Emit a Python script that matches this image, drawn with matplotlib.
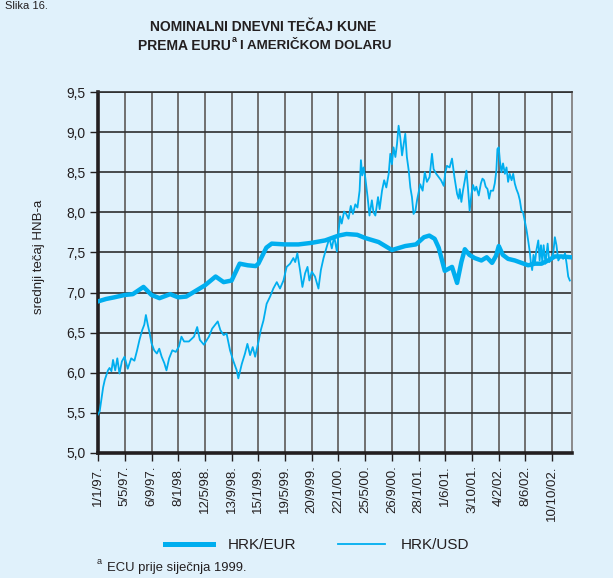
import matplotlib
matplotlib.use("Agg")
import matplotlib.pyplot as plt

# x positions are in tick units (one unit = distance between date labels)
date_labels = ["1/1/97.", "5/5/97.", "6/9/97.", "8/1/98.", "12/5/98.", "13/9/98.",
               "15/1/99.", "19/5/99.", "20/9/99.", "22/1/00.", "25/5/00.", "26/9/00.",
               "28/1/01.", "1/6/01.", "3/10/01.", "4/2/02.", "8/6/02.", "10/10/02."]
y_ticks = [5.0, 5.5, 6.0, 6.5, 7.0, 7.5, 8.0, 8.5, 9.0, 9.5]

eur_t = [0.0, 0.3, 0.6, 1.0, 1.3, 1.7, 2.0, 2.3, 2.7, 3.0, 3.3, 3.7, 4.0, 4.4, 4.7,
         5.0, 5.3, 5.6, 5.9, 6.0, 6.3, 6.5, 7.0, 7.5, 8.0, 8.5, 9.0, 9.3, 9.7, 10.0,
         10.5, 11.0, 11.5, 11.9, 12.2, 12.4, 12.6, 12.75, 12.98, 13.25, 13.44, 13.6,
         13.73, 13.9, 14.1, 14.35, 14.55, 14.75, 14.9, 15.0, 15.15, 15.35, 15.6,
         15.85, 16.1, 16.35, 16.6, 16.85, 17.1, 17.35, 17.7]
eur_v = [6.89, 6.92, 6.94, 6.97, 6.98, 7.07, 6.97, 6.93, 6.98, 6.94, 6.95, 7.03, 7.09,
         7.20, 7.13, 7.15, 7.36, 7.34, 7.33, 7.36, 7.56, 7.61, 7.60, 7.60, 7.62, 7.65,
         7.71, 7.73, 7.72, 7.68, 7.63, 7.53, 7.58, 7.60, 7.69, 7.71, 7.67, 7.56, 7.27,
         7.32, 7.12, 7.38, 7.54, 7.47, 7.43, 7.40, 7.44, 7.37, 7.46, 7.58, 7.47, 7.42,
         7.40, 7.37, 7.34, 7.36, 7.36, 7.40, 7.45, 7.45, 7.44]

usd_t = [0.0, 0.06, 0.12, 0.19, 0.25, 0.37, 0.43, 0.5, 0.56, 0.64, 0.72, 0.8, 0.89,
         0.99, 1.11, 1.24, 1.36, 1.46, 1.55, 1.65, 1.73, 1.79, 1.86, 1.92, 2.0, 2.1,
         2.2, 2.29, 2.38, 2.48, 2.56, 2.66, 2.78, 2.91, 3.03, 3.12, 3.22, 3.4, 3.59,
         3.71, 3.81, 3.96, 4.15, 4.27, 4.48, 4.58, 4.7, 4.81, 4.94, 5.06, 5.19, 5.25,
         5.38, 5.5, 5.59, 5.69, 5.79, 5.88, 6.0, 6.09, 6.19, 6.31, 6.44, 6.56, 6.69,
         6.81, 6.94, 7.06, 7.19, 7.31, 7.38, 7.46, 7.56, 7.65, 7.75, 7.84, 7.91, 8.0,
         8.12, 8.25, 8.34, 8.44, 8.56, 8.66, 8.75, 8.84, 8.94, 9.0, 9.06, 9.12, 9.21,
         9.29, 9.375, 9.46, 9.54, 9.63, 9.71, 9.79, 9.84, 9.89, 9.94, 10.0, 10.09,
         10.16, 10.25, 10.31, 10.38, 10.48, 10.54, 10.63, 10.71, 10.79, 10.88, 10.94,
         11.0, 11.06, 11.13, 11.19, 11.25, 11.31, 11.38, 11.44, 11.5, 11.56, 11.63,
         11.69, 11.75, 11.81, 11.88, 11.94, 12.06, 12.15, 12.23, 12.31, 12.41, 12.5,
         12.56, 12.66, 12.75, 12.84, 12.94, 13.0, 13.06, 13.16, 13.25, 13.34, 13.44,
         13.5, 13.54, 13.6, 13.66, 13.73, 13.79, 13.85, 13.91, 13.98, 14.04, 14.1,
         14.16, 14.25, 14.33, 14.39, 14.45, 14.51, 14.58, 14.64, 14.7, 14.79, 14.85,
         14.91, 14.95, 15.0, 15.04, 15.1, 15.16, 15.23, 15.29, 15.35, 15.41, 15.48,
         15.54, 15.6, 15.66, 15.73, 15.79, 15.85, 15.91, 15.98, 16.04, 16.1, 16.16,
         16.2, 16.25, 16.3, 16.35, 16.41, 16.48, 16.53, 16.58, 16.63, 16.68, 16.75,
         16.83, 16.89, 16.95, 17.04, 17.1, 17.16, 17.23, 17.33, 17.41, 17.48, 17.54,
         17.6, 17.66]
usd_v = [5.48, 5.52, 5.66, 5.82, 5.91, 6.03, 6.06, 6.02, 6.16, 6.03, 6.18, 5.99, 6.14,
         6.20, 6.05, 6.18, 6.15, 6.28, 6.41, 6.53, 6.60, 6.72, 6.60, 6.51, 6.37, 6.28,
         6.24, 6.30, 6.20, 6.12, 6.03, 6.18, 6.28, 6.26, 6.33, 6.45, 6.39, 6.39, 6.45,
         6.57, 6.41, 6.35, 6.45, 6.55, 6.64, 6.53, 6.47, 6.49, 6.28, 6.15, 6.03, 5.93,
         6.11, 6.24, 6.36, 6.22, 6.32, 6.20, 6.38, 6.53, 6.65, 6.86, 6.95, 7.05, 7.13,
         7.05, 7.15, 7.32, 7.36, 7.43, 7.38, 7.49, 7.28, 7.07, 7.24, 7.32, 7.15, 7.26,
         7.20, 7.05, 7.28, 7.43, 7.57, 7.68, 7.55, 7.70, 7.51, 7.74, 7.95, 7.86, 8.01,
         7.98, 7.92, 8.08, 7.98, 8.10, 8.06, 8.27, 8.65, 8.46, 8.56, 8.44, 8.19,
         7.96, 8.15, 8.00, 7.96, 8.19, 8.04, 8.27, 8.40, 8.31, 8.48, 8.73,
         8.60, 8.81, 8.69, 8.85, 9.08, 8.94, 8.71, 8.85, 8.98, 8.69, 8.52,
         8.31, 8.19, 7.98, 8.02, 8.15, 8.35, 8.27, 8.50, 8.38, 8.44, 8.73,
         8.54, 8.48, 8.44, 8.40, 8.33, 8.50, 8.58, 8.56, 8.67, 8.44, 8.23,
         8.17, 8.29, 8.13, 8.27, 8.40, 8.52, 8.29, 8.02, 8.23, 8.34, 8.27,
         8.32, 8.21, 8.36, 8.42, 8.40, 8.32, 8.29, 8.17, 8.27, 8.27, 8.36,
         8.52, 8.79, 8.81, 8.65, 8.50, 8.61, 8.48, 8.56, 8.38, 8.48, 8.40,
         8.48, 8.36, 8.29, 8.23, 8.15, 8.02, 8.00, 7.88, 7.78, 7.65, 7.51,
         7.38, 7.28, 7.47, 7.36, 7.53, 7.65, 7.40, 7.59, 7.38, 7.59, 7.36,
         7.61, 7.38, 7.40, 7.49, 7.69, 7.59, 7.40, 7.46, 7.42, 7.49, 7.36,
         7.20, 7.15]

BG = "#e0f1fb"
LINE = "#00aeef"
INK = "#231f20"
plt.rcParams["font.family"] = ["Liberation Sans", "DejaVu Sans"]

fig = plt.figure(figsize=(6.13, 5.78), dpi=100, facecolor=BG)
ax = fig.add_axes([0.160, 0.2163, 0.7726, 0.6245], facecolor=BG)

ax.plot(eur_t, eur_v, color=LINE, lw=3.2, solid_joinstyle="round", zorder=3)
ax.plot(usd_t, usd_v, color=LINE, lw=1.3, zorder=3)

ax.set_xlim(0, 17.73)
ax.set_ylim(5.0, 9.5)
ax.set_xticks(range(len(date_labels)))
ax.set_xticklabels(date_labels, rotation=90, fontsize=9.5, color=INK)
ax.set_yticks(y_ticks)
ax.set_yticklabels([f"{v:.1f}".replace(".", ",") for v in y_ticks], fontsize=10, color=INK)
ax.tick_params(axis="both", direction="out", length=6, width=1, color=INK, pad=3)

ax.xaxis.grid(True, color="#6f6f6f", lw=1.4)
ax.yaxis.grid(True, color="#2e2e2e", lw=1.2)
ax.set_axisbelow(True)
for side in ("left", "bottom"):
    ax.spines[side].set_linewidth(2.6)
    ax.spines[side].set_color(INK)
ax.spines["top"].set_linewidth(1.2)
ax.spines["top"].set_color("#2e2e2e")
ax.spines["right"].set_linewidth(1.4)
ax.spines["right"].set_color("#8a8a8a")

ax.set_ylabel("srednji tečaj HNB-a", fontsize=9.5, color=INK)
ax.yaxis.set_label_coords(-53 / 473.6, (453 - 257) / 361)

# page label (cut at the top in the source) and title with superscript
fig.text(0.008, 1 - 1 / 578, "Slika 16.", fontsize=8, color=INK, va="top")
fig.text(263.5 / 613, 1 - 27 / 578, "NOMINALNI DNEVNI TEČAJ KUNE", fontsize=10,
         fontweight="bold", color=INK, ha="center", va="center")
fig.text(231 / 613, 1 - 46 / 578, "PREMA EURU", fontsize=10, fontweight="bold",
         color=INK, ha="right", va="center")
fig.text(232 / 613, 1 - 40 / 578, "a", fontsize=6.5, fontweight="bold",
         color=INK, ha="left", va="center")
fig.text(240 / 613, 1 - 46 / 578, "I AMERIČKOM DOLARU", fontsize=9.6, fontweight="bold",
         color=INK, ha="left", va="center")

# legend below the chart
h_eur, = ax.plot([], [], color=LINE, lw=3.6, label="HRK/EUR")
h_usd, = ax.plot([], [], color=LINE, lw=1.3, label="HRK/USD")
fig.legend(handles=[h_eur, h_usd], loc="center", bbox_to_anchor=(317 / 613, 1 - 545 / 578),
           ncol=2, frameon=False, fontsize=11, handlelength=3.1, handletextpad=1.0,
           columnspacing=2.7, labelcolor=INK)

fig.text(97 / 613, 1 - 562 / 578, "a", fontsize=6.5, color=INK, ha="left", va="center")
fig.text(107 / 613, 1 - 568 / 578, "ECU prije siječnja 1999.", fontsize=9.4, color=INK,
         ha="left", va="center")

fig.savefig("out.png", dpi=100, facecolor=BG)
